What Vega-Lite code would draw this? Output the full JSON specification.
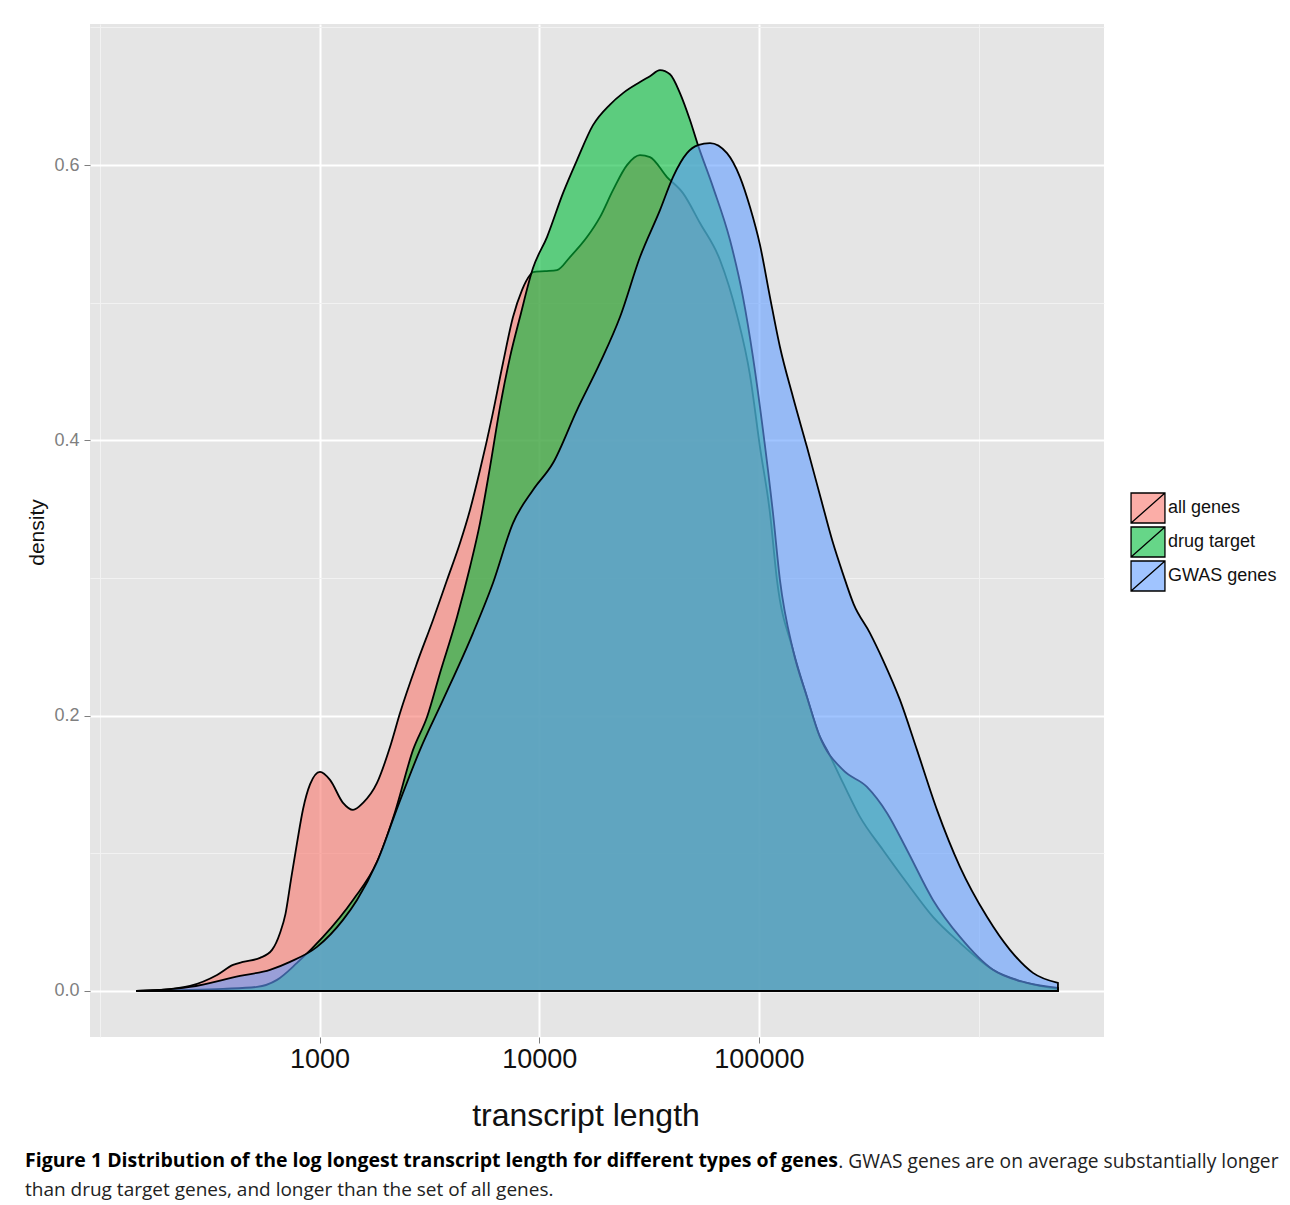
{
  "$schema": "https://vega.github.io/schema/vega-lite/v6.json",
  "width": 1014,
  "height": 1013,
  "autosize": {"type": "none"},
  "padding": {"left": 90, "top": 24, "right": 186, "bottom": 168},
  "background": "white",
  "config": {"view": {"fill": "#E5E5E5", "stroke": null}},
  "title": {
    "text": "Figure 1 Distribution of the log longest transcript length for different types of genes",
    "subtitle": "than drug target genes, and longer than the set of all genes.",
    "orient": "bottom",
    "anchor": "start",
    "frame": "group",
    "font": "Open Sans",
    "fontSize": 19.5,
    "fontWeight": "bold",
    "color": "#000000",
    "subtitleFont": "Open Sans",
    "subtitleFontSize": 19,
    "subtitleFontWeight": "normal",
    "subtitleColor": "#222222",
    "subtitlePadding": 9,
    "dx": -65,
    "offset": -19
  },
  "datasets": {
    "all": [
      {"group": "all genes", "len": 146.2, "density": 0},
      {"group": "all genes", "len": 187.9, "density": 0.0007},
      {"group": "all genes", "len": 257.4, "density": 0.0036},
      {"group": "all genes", "len": 341.6, "density": 0.0116},
      {"group": "all genes", "len": 404.0, "density": 0.0189},
      {"group": "all genes", "len": 448.5, "density": 0.0211},
      {"group": "all genes", "len": 536.0, "density": 0.0240},
      {"group": "all genes", "len": 607.8, "density": 0.0298},
      {"group": "all genes", "len": 661.0, "density": 0.0421},
      {"group": "all genes", "len": 700.0, "density": 0.0560},
      {"group": "all genes", "len": 740.0, "density": 0.0800},
      {"group": "all genes", "len": 790.0, "density": 0.1075},
      {"group": "all genes", "len": 841.2, "density": 0.1320},
      {"group": "all genes", "len": 905.2, "density": 0.1500},
      {"group": "all genes", "len": 1005.3, "density": 0.1591},
      {"group": "all genes", "len": 1116.2, "density": 0.1533},
      {"group": "all genes", "len": 1279.4, "density": 0.1366},
      {"group": "all genes", "len": 1420.6, "density": 0.1315},
      {"group": "all genes", "len": 1577.6, "density": 0.1366},
      {"group": "all genes", "len": 1826.7, "density": 0.1511},
      {"group": "all genes", "len": 2093.8, "density": 0.1772},
      {"group": "all genes", "len": 2325.0, "density": 0.2019},
      {"group": "all genes", "len": 2779.0, "density": 0.2383},
      {"group": "all genes", "len": 3285.9, "density": 0.2695},
      {"group": "all genes", "len": 3805.0, "density": 0.2985},
      {"group": "all genes", "len": 4360.3, "density": 0.3254},
      {"group": "all genes", "len": 4841.7, "density": 0.3494},
      {"group": "all genes", "len": 5376.4, "density": 0.3784},
      {"group": "all genes", "len": 6097.6, "density": 0.4169},
      {"group": "all genes", "len": 6841.6, "density": 0.4562},
      {"group": "all genes", "len": 7598.9, "density": 0.4896},
      {"group": "all genes", "len": 8350.0, "density": 0.5092},
      {"group": "all genes", "len": 9081.9, "density": 0.5201},
      {"group": "all genes", "len": 9371.2, "density": 0.5223},
      {"group": "all genes", "len": 10627, "density": 0.5230},
      {"group": "all genes", "len": 12050, "density": 0.5237},
      {"group": "all genes", "len": 13808, "density": 0.5332},
      {"group": "all genes", "len": 16504, "density": 0.5477},
      {"group": "all genes", "len": 18911, "density": 0.5622},
      {"group": "all genes", "len": 21676, "density": 0.5818},
      {"group": "all genes", "len": 25096, "density": 0.6000},
      {"group": "all genes", "len": 28763, "density": 0.6072},
      {"group": "all genes", "len": 31931, "density": 0.6058},
      {"group": "all genes", "len": 38162, "density": 0.5913},
      {"group": "all genes", "len": 45124, "density": 0.5796},
      {"group": "all genes", "len": 53935, "density": 0.5579},
      {"group": "all genes", "len": 66529, "density": 0.5310},
      {"group": "all genes", "len": 79488, "density": 0.4910},
      {"group": "all genes", "len": 91102, "density": 0.4474},
      {"group": "all genes", "len": 101158, "density": 0.3951},
      {"group": "all genes", "len": 112328, "density": 0.3472},
      {"group": "all genes", "len": 120880, "density": 0.2985},
      {"group": "all genes", "len": 142966, "density": 0.2477},
      {"group": "all genes", "len": 165538, "density": 0.2136},
      {"group": "all genes", "len": 189714, "density": 0.1845},
      {"group": "all genes", "len": 204174, "density": 0.1751},
      {"group": "all genes", "len": 241434, "density": 0.1511},
      {"group": "all genes", "len": 288535, "density": 0.1264},
      {"group": "all genes", "len": 367185, "density": 0.1024},
      {"group": "all genes", "len": 472231, "density": 0.0784},
      {"group": "all genes", "len": 620056, "density": 0.0538},
      {"group": "all genes", "len": 822983, "density": 0.0349},
      {"group": "all genes", "len": 1162845, "density": 0.0153},
      {"group": "all genes", "len": 1660652, "density": 0.0058},
      {"group": "all genes", "len": 2298000, "density": 0.0015}
    ],
    "drug": [
      {"group": "drug target", "len": 146.2, "density": 0},
      {"group": "drug target", "len": 257.4, "density": 0.0007},
      {"group": "drug target", "len": 363.8, "density": 0.0015},
      {"group": "drug target", "len": 519.4, "density": 0.0029},
      {"group": "drug target", "len": 640.6, "density": 0.0080},
      {"group": "drug target", "len": 790.0, "density": 0.0203},
      {"group": "drug target", "len": 1037.3, "density": 0.0392},
      {"group": "drug target", "len": 1420.6, "density": 0.0661},
      {"group": "drug target", "len": 1826.7, "density": 0.0937},
      {"group": "drug target", "len": 2206.6, "density": 0.1300},
      {"group": "drug target", "len": 2664.9, "density": 0.1751},
      {"group": "drug target", "len": 3085.9, "density": 0.1990},
      {"group": "drug target", "len": 3536.3, "density": 0.2310},
      {"group": "drug target", "len": 4225.9, "density": 0.2717},
      {"group": "drug target", "len": 4841.7, "density": 0.3080},
      {"group": "drug target", "len": 5376.4, "density": 0.3399},
      {"group": "drug target", "len": 5971.2, "density": 0.3806},
      {"group": "drug target", "len": 6630.7, "density": 0.4242},
      {"group": "drug target", "len": 7364.7, "density": 0.4605},
      {"group": "drug target", "len": 8177.0, "density": 0.4896},
      {"group": "drug target", "len": 9371.2, "density": 0.5252},
      {"group": "drug target", "len": 10851, "density": 0.5477},
      {"group": "drug target", "len": 12832, "density": 0.5796},
      {"group": "drug target", "len": 14862, "density": 0.6036},
      {"group": "drug target", "len": 17574, "density": 0.6290},
      {"group": "drug target", "len": 21008, "density": 0.6440},
      {"group": "drug target", "len": 24067, "density": 0.6523},
      {"group": "drug target", "len": 28763, "density": 0.6603},
      {"group": "drug target", "len": 31931, "density": 0.6646},
      {"group": "drug target", "len": 35465, "density": 0.6690},
      {"group": "drug target", "len": 39384, "density": 0.6660},
      {"group": "drug target", "len": 43730, "density": 0.6523},
      {"group": "drug target", "len": 48568, "density": 0.6327},
      {"group": "drug target", "len": 52817, "density": 0.6145},
      {"group": "drug target", "len": 61829, "density": 0.5840},
      {"group": "drug target", "len": 73874, "density": 0.5455},
      {"group": "drug target", "len": 84650, "density": 0.5041},
      {"group": "drug target", "len": 94005, "density": 0.4605},
      {"group": "drug target", "len": 104400, "density": 0.4075},
      {"group": "drug target", "len": 115927, "density": 0.3472},
      {"group": "drug target", "len": 124732, "density": 0.2985},
      {"group": "drug target", "len": 142966, "density": 0.2477},
      {"group": "drug target", "len": 165538, "density": 0.2136},
      {"group": "drug target", "len": 189714, "density": 0.1845},
      {"group": "drug target", "len": 241434, "density": 0.1605},
      {"group": "drug target", "len": 310456, "density": 0.1482},
      {"group": "drug target", "len": 382891, "density": 0.1293},
      {"group": "drug target", "len": 472231, "density": 0.1024},
      {"group": "drug target", "len": 620056, "density": 0.0661},
      {"group": "drug target", "len": 822983, "density": 0.0392},
      {"group": "drug target", "len": 1162845, "density": 0.0153},
      {"group": "drug target", "len": 1660652, "density": 0.0058},
      {"group": "drug target", "len": 2298000, "density": 0.0022}
    ],
    "gwas": [
      {"group": "GWAS genes", "len": 146.2, "density": 0},
      {"group": "GWAS genes", "len": 187.9, "density": 0.0007},
      {"group": "GWAS genes", "len": 257.4, "density": 0.0029},
      {"group": "GWAS genes", "len": 434.6, "density": 0.0109},
      {"group": "GWAS genes", "len": 595.2, "density": 0.0153},
      {"group": "GWAS genes", "len": 734.0, "density": 0.0211},
      {"group": "GWAS genes", "len": 974.1, "density": 0.0320},
      {"group": "GWAS genes", "len": 1279.4, "density": 0.0516},
      {"group": "GWAS genes", "len": 1481.4, "density": 0.0661},
      {"group": "GWAS genes", "len": 1826.7, "density": 0.0937},
      {"group": "GWAS genes", "len": 2276.8, "density": 0.1344},
      {"group": "GWAS genes", "len": 2867.4, "density": 0.1751},
      {"group": "GWAS genes", "len": 3648.8, "density": 0.2114},
      {"group": "GWAS genes", "len": 4996.8, "density": 0.2600},
      {"group": "GWAS genes", "len": 6161.1, "density": 0.2964},
      {"group": "GWAS genes", "len": 7598.9, "density": 0.3399},
      {"group": "GWAS genes", "len": 9371.2, "density": 0.3639},
      {"group": "GWAS genes", "len": 11556, "density": 0.3835},
      {"group": "GWAS genes", "len": 14862, "density": 0.4220},
      {"group": "GWAS genes", "len": 18911, "density": 0.4562},
      {"group": "GWAS genes", "len": 23325, "density": 0.4896},
      {"group": "GWAS genes", "len": 28763, "density": 0.5332},
      {"group": "GWAS genes", "len": 35465, "density": 0.5673},
      {"group": "GWAS genes", "len": 40640, "density": 0.5913},
      {"group": "GWAS genes", "len": 47060, "density": 0.6087},
      {"group": "GWAS genes", "len": 52817, "density": 0.6145},
      {"group": "GWAS genes", "len": 59911, "density": 0.6160},
      {"group": "GWAS genes", "len": 71581, "density": 0.6087},
      {"group": "GWAS genes", "len": 82035, "density": 0.5913},
      {"group": "GWAS genes", "len": 91102, "density": 0.5695},
      {"group": "GWAS genes", "len": 101158, "density": 0.5420},
      {"group": "GWAS genes", "len": 112328, "density": 0.5041},
      {"group": "GWAS genes", "len": 124732, "density": 0.4678},
      {"group": "GWAS genes", "len": 142966, "density": 0.4315},
      {"group": "GWAS genes", "len": 165538, "density": 0.3951},
      {"group": "GWAS genes", "len": 192000, "density": 0.3570},
      {"group": "GWAS genes", "len": 216000, "density": 0.3270},
      {"group": "GWAS genes", "len": 241434, "density": 0.3030},
      {"group": "GWAS genes", "len": 270000, "density": 0.2810},
      {"group": "GWAS genes", "len": 320392, "density": 0.2600},
      {"group": "GWAS genes", "len": 367185, "density": 0.2404},
      {"group": "GWAS genes", "len": 438784, "density": 0.2114},
      {"group": "GWAS genes", "len": 524336, "density": 0.1751},
      {"group": "GWAS genes", "len": 646763, "density": 0.1315},
      {"group": "GWAS genes", "len": 822983, "density": 0.0901},
      {"group": "GWAS genes", "len": 1092230, "density": 0.0538},
      {"group": "GWAS genes", "len": 1389375, "density": 0.0298},
      {"group": "GWAS genes", "len": 1768370, "density": 0.0131},
      {"group": "GWAS genes", "len": 2298000, "density": 0.0058}
    ]
  },
  "layer": [
    {
      "encoding": {
        "x": {
          "field": "len",
          "type": "quantitative",
          "scale": {"type": "log", "domain": [90.2, 3724000], "nice": false, "zero": false},
          "axis": {
            "values": [100, 1000, 10000, 100000, 1000000],
            "format": "d",
            "labelExpr": "datum.value == 100 || datum.value == 1000000 ? '' : datum.label",
            "labelFont": "Liberation Sans",
            "labelFontSize": 27,
            "labelColor": "#111111",
            "labelPadding": 3,
            "labelFlush": false,
            "labelOverlap": false,
            "tickSize": 6,
            "tickWidth": 1,
            "tickColor": "#7F7F7F",
            "tickOpacity": {"condition": {"test": "datum.value == 100 || datum.value == 1000000", "value": 0}, "value": 1},
            "domain": false,
            "grid": true,
            "gridColor": {"condition": {"test": "datum.value == 100 || datum.value == 1000000", "value": "#F2F2F2"}, "value": "#FFFFFF"},
            "gridWidth": {"condition": {"test": "datum.value == 100 || datum.value == 1000000", "value": 1}, "value": 2},
            "title": "transcript length",
            "titleFont": "Liberation Sans",
            "titleFontSize": 32,
            "titleFontWeight": "normal",
            "titleColor": "#111111",
            "titleX": 495.5,
            "titleY": 88,
            "titleAlign": "center",
            "titleBaseline": "alphabetic"
          }
        },
        "y": {
          "field": "density",
          "type": "quantitative",
          "scale": {"domain": [-0.0335, 0.7025], "nice": false, "zero": false},
          "axis": {
            "values": [0, 0.1, 0.2, 0.3, 0.4, 0.5, 0.6, 0.7],
            "format": ".1f",
            "labelExpr": "round(datum.value * 10) % 2 == 1 ? '' : datum.label",
            "labelFont": "Liberation Sans",
            "labelFontSize": 18,
            "labelColor": "#7F7F7F",
            "labelPadding": 5,
            "tickSize": 6,
            "tickWidth": 1,
            "tickColor": "#7F7F7F",
            "tickOpacity": {"condition": {"test": "round(datum.value * 10) % 2 == 1", "value": 0}, "value": 1},
            "domain": false,
            "grid": true,
            "gridColor": {"condition": {"test": "round(datum.value * 10) % 2 == 1", "value": "#F2F2F2"}, "value": "#FFFFFF"},
            "gridWidth": {"condition": {"test": "round(datum.value * 10) % 2 == 1", "value": 1}, "value": 2},
            "title": "density",
            "titleFont": "Liberation Sans",
            "titleFontSize": 21,
            "titleFontWeight": "normal",
            "titleColor": "#111111",
            "titleAngle": -90,
            "titleX": -47,
            "titleY": 508,
            "titleAlign": "center",
            "titleBaseline": "alphabetic"
          }
        },
        "y2": {"datum": 0},
        "color": {
          "field": "group",
          "type": "nominal",
          "scale": {"domain": ["all genes", "drug target", "GWAS genes"], "range": ["#F8766D", "#00BA38", "#619CFF"]},
          "legend": {
            "orient": "none",
            "legendX": 1042,
            "legendY": 468,
            "title": null,
            "padding": 0,
            "rowPadding": -6,
            "symbolType": "M-1.13,-1H1.13V1H-1.13Z M-1.13,1L1.13,-1",
            "symbolSize": 900,
            "symbolStrokeColor": "#000000",
            "symbolStrokeWidth": 1.3,
            "labelFont": "Liberation Sans",
            "labelFontSize": 18,
            "labelColor": "#111111",
            "labelOffset": 4,
            "encode": {"symbols": {"update": {"fillOpacity": {"value": 0.6}, "stroke": {"value": "#000000"}, "strokeOpacity": {"value": 1}, "opacity": {"value": 1}}}}
          }
        }
      },
      "layer": [
        {"data": {"name": "all"}, "mark": {"type": "area", "interpolate": "monotone", "fillOpacity": 0.6, "stroke": "#000000", "strokeWidth": 1.8, "strokeOpacity": 1}},
        {"data": {"name": "drug"}, "mark": {"type": "area", "interpolate": "monotone", "fillOpacity": 0.6, "stroke": "#000000", "strokeWidth": 1.8, "strokeOpacity": 1}},
        {"data": {"name": "gwas"}, "mark": {"type": "area", "interpolate": "monotone", "fillOpacity": 0.6, "stroke": "#000000", "strokeWidth": 1.8, "strokeOpacity": 1}}
      ]
    },
    {
      "data": {"values": [{}]},
      "mark": {"type": "rule", "opacity": 0},
      "encoding": {
        "y": {
          "datum": 0,
          "type": "quantitative",
          "scale": {"domain": [-0.0335, 0.7025], "nice": false, "zero": false},
          "axis": {
            "orient": "right",
            "labels": false,
            "ticks": false,
            "domain": false,
            "grid": false,
            "title": ". GWAS genes are on average substantially longer",
            "titleAngle": 0,
            "titleX": 174,
            "titleY": 1143,
            "titleAlign": "right",
            "titleBaseline": "alphabetic",
            "titleFont": "Open Sans",
            "titleFontSize": 19.2,
            "titleFontWeight": "normal",
            "titleColor": "#222222"
          }
        }
      }
    }
  ],
  "resolve": {"scale": {"y": "independent"}, "axis": {"y": "independent"}}
}
